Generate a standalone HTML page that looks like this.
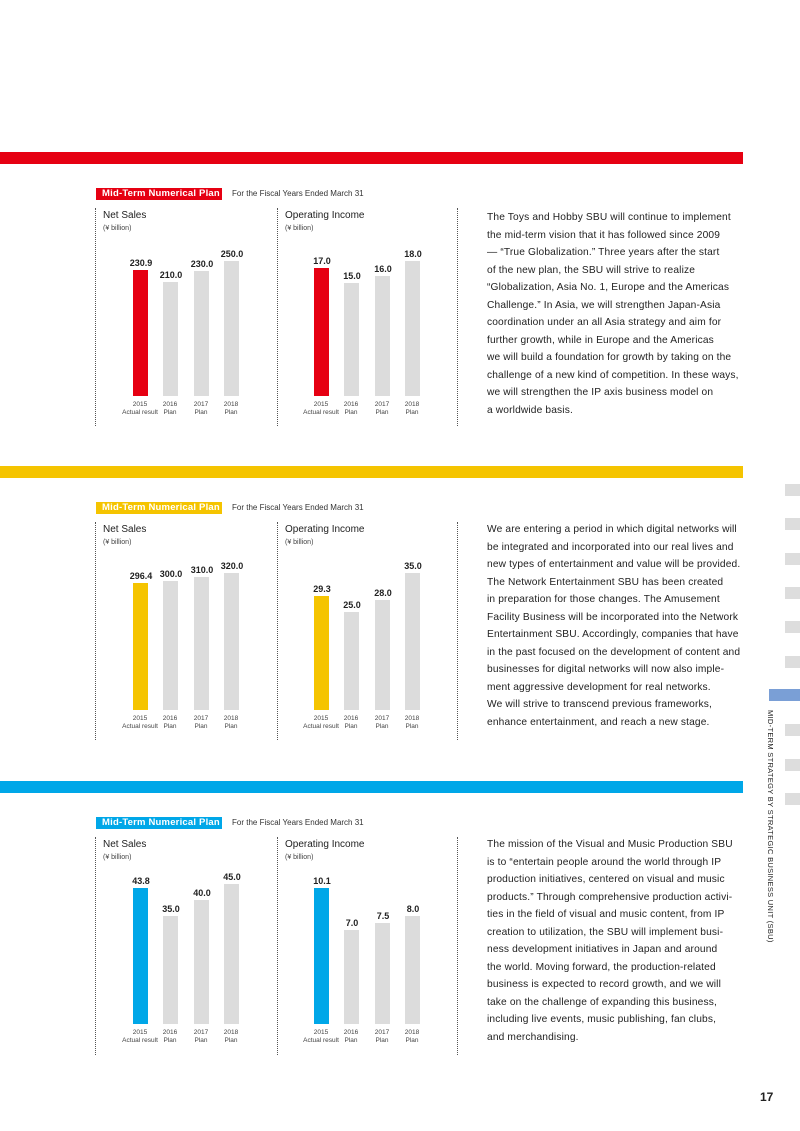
<!DOCTYPE html>
<html><head><meta charset="utf-8"><style>
body{margin:0;width:800px;height:1131px;position:relative;background:#fff;font-family:"Liberation Sans",sans-serif;color:#222;overflow:hidden}
.a{position:absolute}
.band{position:absolute;left:0;width:743px;height:12px}
.tag{position:absolute;height:12px;color:#fff;font-size:9.5px;font-weight:bold;line-height:12px;padding-left:6px;width:120px;letter-spacing:0.2px}
.fy{position:absolute;font-size:8px;color:#333}
.dot{position:absolute;width:0;border-left:1px dotted #555;height:218px}
.ttl{position:absolute;font-size:10px;color:#222}
.unit{position:absolute;font-size:7px;color:#444}
.bar{position:absolute;width:15px}
.val{position:absolute;width:40px;text-align:center;font-size:9px;font-weight:bold;color:#222}
.xl{position:absolute;width:60px;text-align:center;font-size:6.5px;line-height:8px;color:#444}
.txt{position:absolute;left:487px;font-size:10.2px;letter-spacing:0.15px;line-height:17.5px;color:#222;white-space:nowrap}
.tab{position:absolute;left:785px;width:15px;height:12px;background:#ddd}
</style></head><body>
<div id="root"></div>
<div class="band" style="top:152px;background:#e60012"></div>
<div class="band" style="top:466px;background:#f5c400"></div>
<div class="band" style="top:781px;background:#00a7e8"></div>

<div class="tab" style="top:484px"></div><div class="tab" style="top:518px"></div><div class="tab" style="top:553px"></div><div class="tab" style="top:587px"></div><div class="tab" style="top:621px"></div><div class="tab" style="top:656px"></div>
<div class="tab" style="top:689px;left:769px;width:31px;background:#7a9fd6"></div>
<div class="tab" style="top:724px"></div><div class="tab" style="top:759px"></div><div class="tab" style="top:793px"></div>
<div class="a" style="left:766px;top:710px;writing-mode:vertical-rl;font-size:7.5px;color:#222;letter-spacing:0.3px;white-space:nowrap">MID-TERM STRATEGY BY STRATEGIC BUSINESS UNIT (SBU)</div>
<div class="a" style="left:760px;top:1090px;font-size:12px;font-weight:bold">17</div>

<div class="txt" style="top:209px">The Toys and Hobby SBU will continue to implement<br>the mid-term vision that it has followed since 2009<br>— “True Globalization.” Three years after the start<br>of the new plan, the SBU will strive to realize<br>“Globalization, Asia No. 1, Europe and the Americas<br>Challenge.” In Asia, we will strengthen Japan-Asia<br>coordination under an all Asia strategy and aim for<br>further growth, while in Europe and the Americas<br>we will build a foundation for growth by taking on the<br>challenge of a new kind of competition. In these ways,<br>we will strengthen the IP axis business model on<br>a worldwide basis.</div>
<div class="txt" style="top:521px">We are entering a period in which digital networks will<br>be integrated and incorporated into our real lives and<br>new types of entertainment and value will be provided.<br>The Network Entertainment SBU has been created<br>in preparation for those changes. The Amusement<br>Facility Business will be incorporated into the Network<br>Entertainment SBU. Accordingly, companies that have<br>in the past focused on the development of content and<br>businesses for digital networks will now also imple-<br>ment aggressive development for real networks.<br>We will strive to transcend previous frameworks,<br>enhance entertainment, and reach a new stage.</div>
<div class="txt" style="top:836px">The mission of the Visual and Music Production SBU<br>is to “entertain people around the world through IP<br>production initiatives, centered on visual and music<br>products.” Through comprehensive production activi-<br>ties in the field of visual and music content, from IP<br>creation to utilization, the SBU will implement busi-<br>ness development initiatives in Japan and around<br>the world. Moving forward, the production-related<br>business is expected to record growth, and we will<br>take on the challenge of expanding this business,<br>including live events, music publishing, fan clubs,<br>and merchandising.</div>

<script>
var S=[
 {y:152,c:'#e60012',bot:396,ns:[[230.9,270],[210.0,282],[230.0,271],[250.0,261]],oi:[[17.0,268],[15.0,283],[16.0,276],[18.0,261]]},
 {y:466,c:'#f5c400',bot:710,ns:[[296.4,583],[300.0,581],[310.0,577],[320.0,573]],oi:[[29.3,596],[25.0,612],[28.0,600],[35.0,573]]},
 {y:781,c:'#00a7e8',bot:1024,ns:[[43.8,888],[35.0,916],[40.0,900],[45.0,884]],oi:[[10.1,888],[7.0,930],[7.5,923],[8.0,916]]}
];
var h='';
S.forEach(function(s){
 var t=s.y+36;
 h+='<div class="tag" style="left:96px;top:'+t+'px;background:'+s.c+'">Mid-Term Numerical Plan</div>';
 h+='<div class="fy" style="left:232px;top:'+(t+1)+'px">For the Fiscal Years Ended March 31</div>';
 [95,277,457].forEach(function(x){h+='<div class="dot" style="left:'+x+'px;top:'+(t+20)+'px"></div>';});
 [[103,'Net Sales',s.ns,133],[285,'Operating Income',s.oi,314]].forEach(function(p){
  h+='<div class="ttl" style="left:'+p[0]+'px;top:'+(t+22)+'px">'+p[1]+'</div>';
  h+='<div class="unit" style="left:'+p[0]+'px;top:'+(t+37)+'px">(¥ billion)</div>';
  var xs=[p[3],p[3]+30,p[3]+61,p[3]+91];
  p[2].forEach(function(b,i){
   var x=xs[i];
   h+='<div class="bar" style="left:'+x+'px;top:'+b[1]+'px;height:'+(s.bot-b[1])+'px;background:'+(i==0?s.c:'#dcdcdc')+'"></div>';
   h+='<div class="val" style="left:'+(x-12)+'px;top:'+(b[1]-12)+'px">'+b[0].toFixed(1)+'</div>';
   h+='<div class="xl" style="left:'+(x-23)+'px;top:'+(s.bot+5)+'px">'+(2015+i)+'<br>'+(i==0?'Actual result':'Plan')+'</div>';
  });
 });
});
document.getElementById('root').innerHTML=h;
</script>
</body></html>
